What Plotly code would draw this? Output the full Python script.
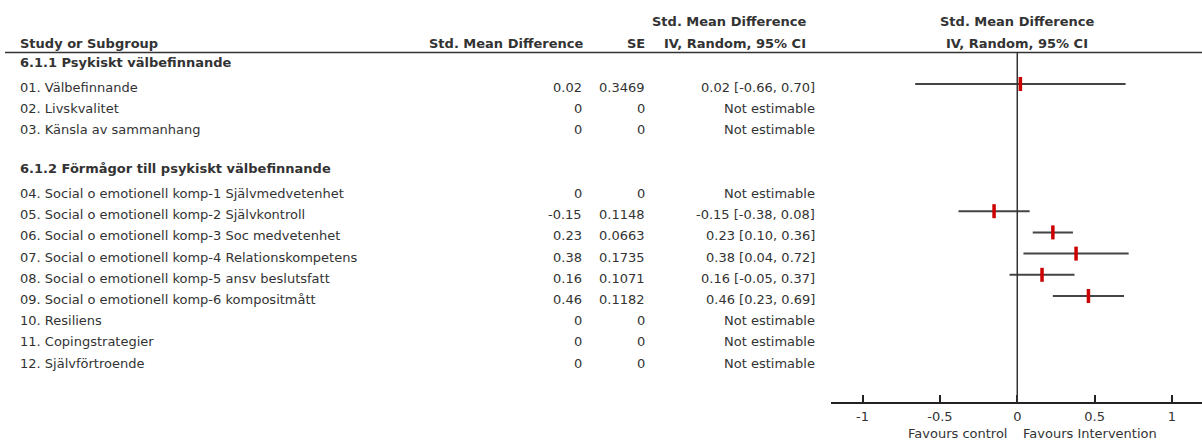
import plotly.graph_objects as go

# ---- data -------------------------------------------------------------
groups = ["6.1.1 Psykiskt välbefinnande", "6.1.2 Förmågor till psykiskt välbefinnande"]
group_sizes = [3, 9]

studies = [
    "01. Välbefinnande",
    "02. Livskvalitet",
    "03. Känsla av sammanhang",
    "04. Social o emotionell komp-1 Självmedvetenhet",
    "05. Social o emotionell komp-2 Självkontroll",
    "06. Social o emotionell komp-3 Soc medvetenhet",
    "07. Social o emotionell komp-4 Relationskompetens",
    "08. Social o emotionell komp-5 ansv beslutsfatt",
    "09. Social o emotionell komp-6 kompositmått",
    "10. Resiliens",
    "11. Copingstrategier",
    "12. Självförtroende",
]
smd_text = ["0.02", "0", "0", "0", "-0.15", "0.23", "0.38", "0.16", "0.46", "0", "0", "0"]
se_text = ["0.3469", "0", "0", "0", "0.1148", "0.0663", "0.1735", "0.1071", "0.1182", "0", "0", "0"]
smd = [0.02, None, None, None, -0.15, 0.23, 0.38, 0.16, 0.46, None, None, None]
ci_low = [-0.66, None, None, None, -0.38, 0.10, 0.04, -0.05, 0.23, None, None, None]
ci_high = [0.70, None, None, None, 0.08, 0.36, 0.72, 0.37, 0.69, None, None, None]

tick_vals = [-1, -0.5, 0, 0.5, 1]
tick_text = ["-1", "-0.5", "0", "0.5", "1"]

# ---- layout constants (pixel space) -----------------------------------
W, H = 1202, 442
ROW0, ROWH = 62.8, 21.2
HEADER_LINE_Y = 52.5
AXIS_Y = 402.7
FONT = "DejaVu Sans"
TXT = "#333333"
COL_SMD, COL_SE, COL_CI = 583.5, 647, 817
LEFT = 18

# assign row slots: group header, its studies, blank spacer
study_slot, group_slot = [], []
slot = 0
si = 0
for gi, n in enumerate(group_sizes):
    group_slot.append(slot)
    slot += 1
    for _ in range(n):
        study_slot.append(slot)
        slot += 1
    slot += 1  # spacer between groups

def row_y(s):
    return ROW0 + s * ROWH

fig = go.Figure()

# CI lines
for i in range(len(studies)):
    if smd[i] is None:
        continue
    y = row_y(study_slot[i])
    fig.add_trace(go.Scatter(
        x=[ci_low[i], ci_high[i]], y=[y, y], mode="lines",
        line=dict(color="#444444", width=2), hoverinfo="skip", showlegend=False))

# point estimates
est_idx = [i for i in range(len(studies)) if smd[i] is not None]
fig.add_trace(go.Scatter(
    x=[smd[i] for i in est_idx], y=[row_y(study_slot[i]) for i in est_idx],
    mode="markers",
    marker=dict(symbol="line-ns", size=10, line=dict(color="#cc0000", width=3.5)),
    hoverinfo="skip", showlegend=False))

annotations = []

def txt(x, y, text, anchor="left", bold=False, xref="paper"):
    annotations.append(dict(
        x=x / W if xref == "paper" else x, xref=xref, y=y, yref="y",
        text=f"<b>{text}</b>" if bold else text, showarrow=False,
        xanchor=anchor, yanchor="middle",
        font=dict(family=FONT, size=13, color=TXT)))

# column headers
txt(LEFT, 43, "Study or Subgroup", bold=True)
txt(585, 43, "Std. Mean Difference", "right", True)
txt(COL_SE, 43, "SE", "right", True)
txt(808, 21, "Std. Mean Difference", "right", True)
txt(808, 43, "IV, Random, 95% CI", "right", True)
txt(1017, 21, "Std. Mean Difference", "center", True)
txt(1017, 43, "IV, Random, 95% CI", "center", True)

# group headings
for g, s in zip(groups, group_slot):
    txt(LEFT, row_y(s) - 0.5, g, bold=True)

# study rows
for i, name in enumerate(studies):
    y = row_y(study_slot[i]) + 3.5
    txt(LEFT, y, name)
    txt(COL_SMD, y, smd_text[i], "right")
    txt(COL_SE, y, se_text[i], "right")
    if smd[i] is None:
        ci = "Not estimable"
    else:
        ci = f"{smd[i]:.2f} [{ci_low[i]:.2f}, {ci_high[i]:.2f}]"
    txt(COL_CI, y, ci, "right")

# favours labels under the axis
annotations.append(dict(x=0, xref="x", y=433, yref="y", text="Favours control",
                        showarrow=False, xanchor="right", xshift=-8,
                        font=dict(family=FONT, size=13, color=TXT)))
annotations.append(dict(x=0, xref="x", y=433, yref="y", text="Favours Intervention",
                        showarrow=False, xanchor="left", xshift=4,
                        font=dict(family=FONT, size=13, color=TXT)))

shapes = [
    # header rule
    dict(type="line", xref="paper", yref="y", x0=5 / W, x1=1, y0=HEADER_LINE_Y,
         y1=HEADER_LINE_Y, line=dict(color="#333333", width=1.5)),
    # line of no effect
    dict(type="line", xref="x", yref="y", x0=0, x1=0, y0=HEADER_LINE_Y, y1=AXIS_Y,
         line=dict(color="#333333", width=1.5)),
]

fig.update_layout(
    width=W, height=H, margin=dict(l=0, r=0, t=0, b=0),
    paper_bgcolor="white", plot_bgcolor="white",
    annotations=annotations, shapes=shapes,
    xaxis=dict(domain=[831 / W, 1], range=[-1.204, 1.194], anchor="free",
               position=(H - AXIS_Y) / H, showgrid=False, zeroline=False,
               showline=True, linecolor="#222222", linewidth=1.5,
               ticks="inside", ticklen=7, tickwidth=1.5, tickcolor="#222222",
               tickvals=tick_vals, ticktext=tick_text, ticklabelstandoff=2,
               tickfont=dict(family=FONT, size=13, color=TXT)),
    yaxis=dict(domain=[0, 1], range=[H, 0], visible=False, showgrid=False,
               zeroline=False),
    showlegend=False,
)

fig.write_html("out.html")
